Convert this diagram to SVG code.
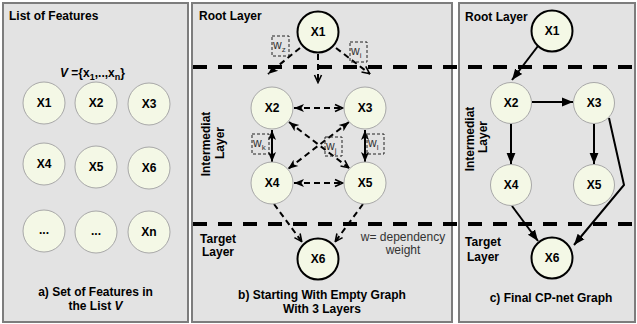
<svg xmlns="http://www.w3.org/2000/svg" width="637" height="324" viewBox="0 0 637 324">
<style>
.panel{fill:#e3e3e3;stroke:#7d7d7d;stroke-width:2}
.n{fill:#f4f8e6;stroke:#a8a8a8;stroke-width:1}
.nt{fill:#f4f8e6;stroke:#000;stroke-width:2}
.lbl{font-family:"Liberation Sans",Arial,sans-serif;font-size:12px;font-weight:bold;fill:#000}
.c{text-anchor:middle}
.reg{font-family:"Liberation Sans",Arial,sans-serif;font-size:12px;fill:#333}
.wt{font-family:"Liberation Sans",Arial,sans-serif;font-size:12px;fill:#333}
.wb{fill:none;stroke:#222;stroke-width:1;stroke-dasharray:3 2}
.layer{fill:none;stroke:#000;stroke-width:4;stroke-dasharray:14 11}
.d{fill:none;stroke:#000;stroke-width:2;stroke-dasharray:6 4}
.s{fill:none;stroke:#000;stroke-width:2}
</style>
<defs>
<marker id="af" viewBox="0 0 10 10" refX="10" refY="5" markerWidth="10" markerHeight="10" markerUnits="userSpaceOnUse" orient="auto-start-reverse">
<path d="M0,1 L10,5 L0,9 L2.5,5 z" fill="#000"/>
</marker>
<marker id="ao" viewBox="0 0 10 10" refX="9.5" refY="5" markerWidth="10" markerHeight="10" markerUnits="userSpaceOnUse" orient="auto-start-reverse">
<path d="M1.5,1.5 L9,5 L1.5,8.5" fill="none" stroke="#000" stroke-width="1.6"/>
</marker>
<marker id="sf" viewBox="0 0 10 10" refX="10" refY="5" markerWidth="11" markerHeight="11" markerUnits="userSpaceOnUse" orient="auto">
<path d="M0,1 L10,5 L0,9 z" fill="#000"/>
</marker>
</defs>

<!-- panels -->
<g id="panel-a">
<rect class="panel" x="3" y="3" width="185" height="319"/>
<text class="lbl" x="9" y="20">List of Features</text>
<text class="lbl" x="60" y="77"><tspan font-style="italic">V</tspan> ={x<tspan font-size="9" dy="3">1</tspan><tspan dy="-3">,..,x</tspan><tspan font-size="9" dy="3">n</tspan><tspan dy="-3">}</tspan></text>
<text class="lbl c" x="95.5" y="296">a) Set of Features in</text>
<text class="lbl c" x="95.5" y="310">the List <tspan font-style="italic">V</tspan></text>
</g>
<g id="panel-b">
<rect class="panel" x="192" y="3" width="260" height="319"/>
<text class="lbl" x="199" y="20">Root Layer</text>
<text class="lbl c" transform="rotate(-90 210 144)" x="210" y="144">Intermediat</text>
<text class="lbl c" transform="rotate(-90 224 143)" x="224" y="143">Layer</text>
<text class="lbl c" x="218" y="243">Target</text>
<text class="lbl c" x="218" y="256">Layer</text>
<text class="reg c" x="403" y="241">w= dependency</text>
<text class="reg c" x="403" y="254">weight</text>
<text class="lbl c" x="322" y="299">b) Starting With Empty Graph</text>
<text class="lbl c" x="322" y="313">With 3 Layers</text>
</g>
<g id="panel-c">
<rect class="panel" x="459" y="3" width="176" height="319"/>
<text class="lbl" x="465" y="21">Root Layer</text>
<text class="lbl c" transform="rotate(-90 474 139)" x="474" y="139">Intermediat</text>
<text class="lbl c" transform="rotate(-90 487 137)" x="487" y="137">Layer</text>
<text class="lbl c" x="483" y="246">Target</text>
<text class="lbl c" x="483" y="261">Layer</text>
<text class="lbl c" x="551" y="302">c) Final CP-net Graph</text>
</g>

<!-- layer separators -->
<g id="layers">
<line class="layer" x1="193" y1="67" x2="637" y2="67"/>
<line class="layer" x1="193" y1="224" x2="637" y2="224"/>
</g>

<!-- connectors -->
<g id="connectors">
<line class="d" x1="300" y1="48" x2="268" y2="74" marker-end="url(#af)"/>
<line class="d" x1="318" y1="54" x2="318" y2="83" marker-end="url(#ao)"/>
<line class="d" x1="336" y1="48" x2="370" y2="74" marker-end="url(#ao)"/>
<line class="d" x1="294" y1="108" x2="343" y2="108" marker-start="url(#af)" marker-end="url(#ao)"/>
<line class="d" x1="294" y1="183" x2="343" y2="183" marker-start="url(#af)" marker-end="url(#ao)"/>
<line class="s" x1="272" y1="130" x2="272" y2="162" marker-start="url(#af)" marker-end="url(#af)"/>
<line class="s" x1="365" y1="130" x2="365" y2="162" marker-start="url(#af)" marker-end="url(#af)"/>
<line class="d" x1="289" y1="122" x2="349" y2="168" marker-start="url(#af)" marker-end="url(#ao)"/>
<line class="d" x1="349" y1="122" x2="288" y2="169" marker-start="url(#af)" marker-end="url(#af)"/>
<line class="d" x1="274" y1="204" x2="302" y2="242" marker-end="url(#ao)"/>
<line class="d" x1="363" y1="204" x2="335" y2="242" marker-end="url(#ao)"/>

<line class="s" x1="538" y1="46" x2="512" y2="80" marker-end="url(#sf)"/>
<line class="s" x1="532" y1="102" x2="573" y2="102" marker-end="url(#sf)"/>
<line class="s" x1="511" y1="124" x2="511" y2="164" marker-end="url(#sf)"/>
<line class="s" x1="594" y1="124" x2="594" y2="164" marker-end="url(#sf)"/>
<polyline class="s" points="609,118 624,185 574,245" marker-end="url(#sf)"/>
<line class="s" x1="512" y1="206" x2="538" y2="241" marker-end="url(#sf)"/>
</g>

<!-- weight boxes -->
<g id="weights">
<rect class="wb" x="272" y="36" width="17" height="20"/>
<text class="wt" x="273" y="49">w<tspan font-size="8" dy="3">z</tspan></text>
<rect class="wb" x="350" y="42" width="17" height="20"/>
<text class="wt" x="351" y="55">w<tspan font-size="8" dy="3">i</tspan></text>
<rect class="wb" x="252" y="134" width="17" height="20"/>
<text class="wt" x="253" y="147">w<tspan font-size="8" dy="3">k</tspan></text>
<rect class="wb" x="325" y="137" width="17" height="19"/>
<text class="wt" x="326" y="150">w<tspan font-size="8" dy="3">j</tspan></text>
<rect class="wb" x="367" y="134" width="17" height="20"/>
<text class="wt" x="368" y="147">w<tspan font-size="8" dy="3">l</tspan></text>
</g>

<!-- nodes panel a -->
<g id="a-x1"><circle class="n" cx="44" cy="103" r="21"/><text class="lbl c" x="44" y="107">X1</text></g>
<g id="a-x2"><circle class="n" cx="96" cy="103" r="21"/><text class="lbl c" x="96" y="107">X2</text></g>
<g id="a-x3"><circle class="n" cx="149" cy="104" r="21"/><text class="lbl c" x="149" y="108">X3</text></g>
<g id="a-x4"><circle class="n" cx="44" cy="164" r="21"/><text class="lbl c" x="44" y="168">X4</text></g>
<g id="a-x5"><circle class="n" cx="96" cy="167" r="21"/><text class="lbl c" x="96" y="171">X5</text></g>
<g id="a-x6"><circle class="n" cx="149" cy="168" r="21"/><text class="lbl c" x="149" y="172">X6</text></g>
<g id="a-d1"><circle class="n" cx="44" cy="231" r="21"/><text class="lbl c" x="44" y="234">...</text></g>
<g id="a-d2"><circle class="n" cx="96" cy="232" r="21"/><text class="lbl c" x="96" y="235">...</text></g>
<g id="a-xn"><circle class="n" cx="149" cy="232" r="21"/><text class="lbl c" x="149" y="236">Xn</text></g>

<!-- nodes panel b -->
<g id="b-x1"><circle class="nt" cx="318" cy="32" r="20.5"/><text class="lbl c" x="318" y="36">X1</text></g>
<g id="b-x2"><circle class="n" cx="272" cy="108" r="21"/><text class="lbl c" x="272" y="112">X2</text></g>
<g id="b-x3"><circle class="n" cx="365" cy="108" r="21"/><text class="lbl c" x="365" y="112">X3</text></g>
<g id="b-x4"><circle class="n" cx="272" cy="183" r="21"/><text class="lbl c" x="272" y="187">X4</text></g>
<g id="b-x5"><circle class="n" cx="365" cy="183" r="21"/><text class="lbl c" x="365" y="187">X5</text></g>
<g id="b-x6"><circle class="nt" cx="318" cy="259" r="20.5"/><text class="lbl c" x="318" y="263">X6</text></g>

<!-- nodes panel c -->
<g id="c-x1"><circle class="nt" cx="552" cy="31" r="20.5"/><text class="lbl c" x="552" y="35">X1</text></g>
<g id="c-x2"><circle class="n" cx="511" cy="103" r="20.5"/><text class="lbl c" x="511" y="107">X2</text></g>
<g id="c-x3"><circle class="n" cx="594" cy="103" r="20.5"/><text class="lbl c" x="594" y="107">X3</text></g>
<g id="c-x4"><circle class="n" cx="511" cy="185" r="20.5"/><text class="lbl c" x="511" y="189">X4</text></g>
<g id="c-x5"><circle class="n" cx="594" cy="185" r="20.5"/><text class="lbl c" x="594" y="189">X5</text></g>
<g id="c-x6"><circle class="nt" cx="552" cy="258" r="20.5"/><text class="lbl c" x="552" y="262">X6</text></g>
</svg>
